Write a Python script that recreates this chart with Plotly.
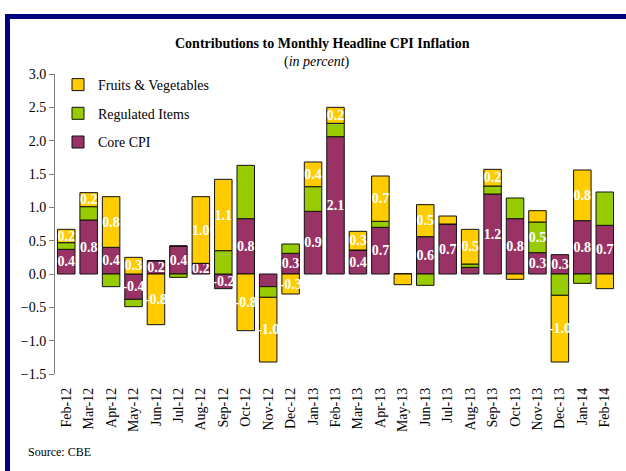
import plotly.graph_objects as go

months = ["Feb-12","Mar-12","Apr-12","May-12","Jun-12","Jul-12","Aug-12","Sep-12","Oct-12","Nov-12",
          "Dec-12","Jan-13","Feb-13","Mar-13","Apr-13","May-13","Jun-13","Jul-13","Aug-13","Sep-13",
          "Oct-13","Nov-13","Dec-13","Jan-14","Feb-14"]

core = [0.37, 0.81, 0.40, -0.38, 0.20, 0.42, 0.16, -0.22, 0.83, -0.19,
        0.31, 0.94, 2.06, 0.36, 0.70, 0.0, 0.56, 0.75, 0.10, 1.20,
        0.83, 0.32, 0.29, 0.80, 0.73]
regulated = [0.10, 0.20, -0.19, -0.11, 0.0, -0.05, 0.0, 0.35, 0.80, -0.16,
             0.14, 0.37, 0.20, 0.0, 0.09, 0.0, -0.17, 0.0, 0.05, 0.12,
             0.31, 0.46, -0.32, -0.14, 0.50]
fruits_veg = [0.20, 0.21, 0.76, 0.25, -0.76, 0.0, 1.00, 1.07, -0.85, -0.97,
              -0.30, 0.37, 0.24, 0.28, 0.68, -0.16, 0.48, 0.12, 0.52, 0.25,
              -0.08, 0.17, -1.00, 0.76, -0.22]

core_labels = ["0.4","0.8","0.4","-0.4","0.2","0.4","0.2","-0.2","0.8","",
               "0.3","0.9","2.1","0.4","0.7","","0.6","0.7","","1.2",
               "0.8","0.3","0.3","0.8","0.7"]
regulated_labels = ["","","","","","","","","","",
                    "","","","","","","","","","",
                    "","0.5","","",""]
fv_labels = ["0.2","0.2","0.8","0.3","-0.8","","1.0","1.1","-0.8","-1.0",
             "-0.3","0.4","0.2","0.3","0.7","","0.5","","0.5","0.2",
             "","","-1.0","0.8",""]

y_ticks = [-1.5, -1.0, -0.5, 0.0, 0.5, 1.0, 1.5, 2.0, 2.5, 3.0]

SERIF = "Liberation Serif, Times New Roman, serif"
COL_CORE = "#993366"
COL_REG = "#99CC00"
COL_FV = "#FFCC00"

fig = go.Figure()

def add(name, vals, labels, color, rank):
    fig.add_trace(go.Bar(
        x=months, y=vals, name=name, text=labels,
        textposition="inside", insidetextanchor="middle", textangle=0,
        constraintext="none",
        textfont=dict(family=SERIF, size=14, color="white", weight="bold"),
        marker=dict(color=color, line=dict(color="#111111", width=1)),
        legendgroup=name, legendrank=rank, hoverinfo="x+y+name",
    ))

add("Core CPI", core, core_labels, COL_CORE, 3)
add("Regulated Items", regulated, regulated_labels, COL_REG, 2)
add("Fruits & Vegetables", fruits_veg, fv_labels, COL_FV, 1)

W, H = 626, 471
L, R, T, B = 55, 10, 74, 97
pw, ph = W - L - R, H - T - B

def px(x):
    return (x - L) / pw

def py(y):
    return (H - B - y) / ph

fig.update_layout(
    width=W, height=H,
    margin=dict(l=L, r=R, t=T, b=B),
    paper_bgcolor="white", plot_bgcolor="white",
    barmode="relative", bargap=0.22,
    uniformtext=dict(minsize=14, mode="show"),
    font=dict(family=SERIF, size=14, color="black"),
    showlegend=True,
    legend=dict(x=px(58), y=py(69), xanchor="left", yanchor="top",
                traceorder="grouped", tracegroupgap=7.5,
                font=dict(family=SERIF, size=14, color="black"),
                bgcolor="rgba(0,0,0,0)"),
    xaxis=dict(type="category", showline=False, ticks="", showgrid=False,
               tickangle=-90, tickfont=dict(family=SERIF, size=14, color="black"),
               ticklabelstandoff=10, zeroline=False),
    xaxis2=dict(overlaying="x", anchor="free", position=py(274), range=[-0.5, len(months) - 0.5],
                tickmode="linear", tick0=-0.5, dtick=1, ticks="outside", ticklen=4,
                tickcolor="#444444", showticklabels=False, showline=True, linecolor="black",
                linewidth=1, showgrid=False, zeroline=False),
    yaxis=dict(range=[-1.5, 3.0], tickvals=y_ticks, tickformat=".1f", showgrid=False,
               showline=True, linecolor="#808080", linewidth=1, ticks="outside", ticklen=5,
               tickcolor="#808080", zeroline=False,
               tickfont=dict(family=SERIF, size=14, color="black")),
    shapes=[
        dict(type="rect", xref="paper", yref="paper", x0=px(5), x1=px(10), y0=py(471), y1=py(14),
             fillcolor="#000080", line=dict(width=0), layer="above"),
        dict(type="rect", xref="paper", yref="paper", x0=px(5), x1=px(626), y0=py(19), y1=py(14),
             fillcolor="#000080", line=dict(width=0), layer="above"),
    ],
    annotations=[
        dict(text="<b>Contributions to Monthly Headline CPI Inflation</b>", xref="paper", yref="paper",
             x=px(322), y=py(44), xanchor="center", yanchor="middle", showarrow=False,
             font=dict(family=SERIF, size=14, color="black")),
        dict(text="(<i>in percent</i>)", xref="paper", yref="paper",
             x=px(317), y=py(62), xanchor="center", yanchor="middle", showarrow=False,
             font=dict(family=SERIF, size=14, color="black")),
        dict(text="Source: CBE", xref="paper", yref="paper",
             x=px(26), y=py(452), xanchor="left", yanchor="middle", showarrow=False,
             font=dict(family=SERIF, size=12, color="black")),
    ],
)

fig.write_html("out.html", config={"displayModeBar": False},
               post_script="document.body.style.margin='0';document.body.style.overflow='hidden';")
